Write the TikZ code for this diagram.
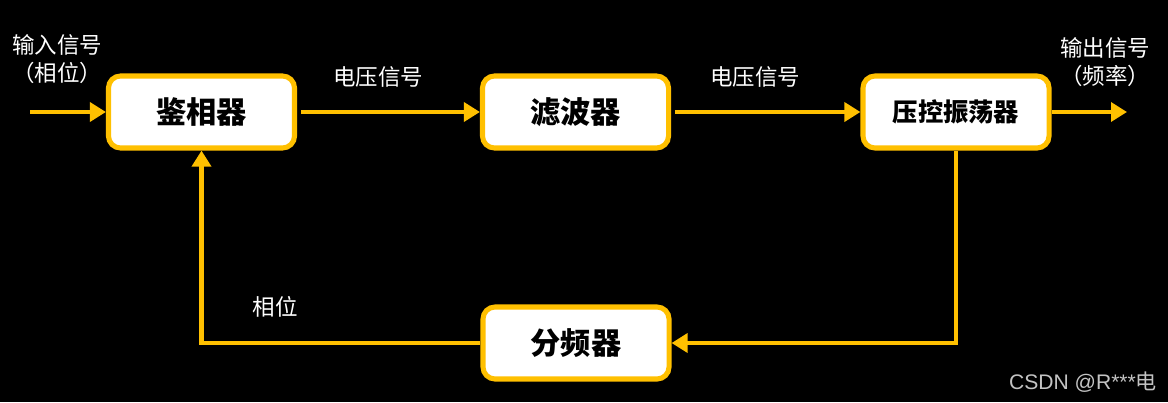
\documentclass[tikz,border=0pt]{standalone}
\usepackage{fontspec}
\setmainfont{Noto Sans CJK SC}
\newfontfamily\markfont{Liberation Sans}
\usepackage{tikz}
\usetikzlibrary{arrows.meta,calc}
\usepackage{xcolor}
\definecolor{pllgold}{RGB}{255,192,0}
\definecolor{markgray}{RGB}{195,195,195}

\begin{document}
\begin{tikzpicture}[x=0.025cm,y=-0.025cm,
  blk/.style={draw=pllgold,fill=white,line width=3.6pt,rounded corners=0.3cm,
    minimum width=4.65cm,minimum height=1.8cm,text=black,
    font=\fontsize{21.5}{24}\selectfont\bfseries},
  sig/.style={draw=pllgold,line width=3.5pt,
    -{Triangle[length=0.4cm,width=0.47cm]}},
  lbl/.style={text=white,align=center,font=\fontsize{16}{20}\selectfont}]
\fill[black] (0,0) rectangle (1168,402);
\useasboundingbox (0,0) rectangle (1168,402);
\node[blk] (pd) at (201.5,112) {鉴相器};
\node[blk] (lf) at (575.5,112) {滤波器};
\node[blk,font=\fontsize{18}{22}\selectfont\bfseries] (vco) at (956,112) {压控振荡器};
\node[blk] (div) at (576,343) {分频器};
\coordinate (in) at (30,112);
\coordinate (out) at (1127,112);
\draw[sig] (in) -- (pd);
\draw[sig,shorten <=1mm] (pd) -- (lf);
\draw[sig,shorten <=1mm] (lf) -- (vco);
\draw[sig] (vco) -- (out);
\draw[sig] (vco.south) -- (vco.south |- div.east) -- (div.east);
\draw[sig] (div.west) -- (pd.south |- div.west) -- (pd.south);
\node[lbl] (inlbl) at (57,59) {输入信号\\（相位）};
\node[lbl] (outlbl) at (1105,62) {输出信号\\（频率）};
\node[lbl] (v1) at (378,77) {电压信号};
\node[lbl] (v2) at (755,77) {电压信号};
\node[lbl] (ph) at (275,307) {相位};
\node[text=markgray,font=\fontsize{15}{18}\selectfont] (mark) at (1083,382) {{\markfont CSDN @R***}电};
\end{tikzpicture}
\end{document}
